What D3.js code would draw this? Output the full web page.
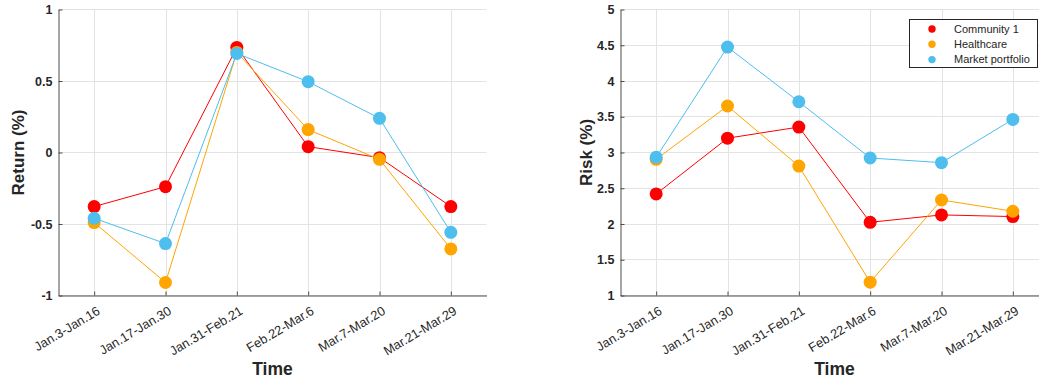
<!DOCTYPE html>
<html>
<head>
<meta charset="utf-8">
<script src="https://cdn.jsdelivr.net/npm/d3@7"></script>
<style>
	body { margin: 0; background: #fff; overflow: hidden; }
	svg { display: block; font-family: "Liberation Sans", Arial, sans-serif; }
</style>
</head>
<body>
<div id="graph-container"></div>
<script>
// data
const periods = ["Jan.3-Jan.16", "Jan.17-Jan.30", "Jan.31-Feb.21", "Feb.22-Mar.6", "Mar.7-Mar.20", "Mar.21-Mar.29"];
const seriesNames = ["Community 1", "Healthcare", "Market portfolio"];
const seriesColors = ["#ff0000", "#ffa500", "#4dbeee"];

const community1Return = [-0.378, -0.239, 0.735, 0.041, -0.036, -0.378];
const healthcareReturn = [-0.49, -0.909, 0.70, 0.16, -0.048, -0.674];
const marketReturn = [-0.46, -0.637, 0.693, 0.495, 0.239, -0.558];

const community1Risk = [2.42, 3.20, 3.356, 2.024, 2.127, 2.104];
const healthcareRisk = [2.905, 3.65, 2.81, 1.186, 2.336, 2.178];
const marketRisk = [2.932, 4.474, 3.71, 2.923, 2.858, 3.463];

const returnTicks = [-1, -0.5, 0, 0.5, 1];
const riskTicks = [1, 1.5, 2, 2.5, 3, 3.5, 4, 4.5, 5];

document.addEventListener("DOMContentLoaded", function () {
	builder();
});

function builder() {
	const w = 1039;
	const h = 383;
	const plotW = 428;
	const top = 9.5;
	const bottom = 295.5;

	const svg = d3
		.select("#graph-container")
		.append("svg")
		.attr("width", w)
		.attr("height", h);

	drawPanel(svg, {
		left: 58.5,
		width: plotW,
		top: top,
		bottom: bottom,
		domain: [-1, 1],
		ticks: returnTicks,
		series: [community1Return, healthcareReturn, marketReturn],
		yTitle: "Return (%)",
		yTitleX: 24,
		legend: false
	});

	drawPanel(svg, {
		left: 620.5,
		width: plotW,
		top: top,
		bottom: bottom,
		domain: [1, 5],
		ticks: riskTicks,
		series: [community1Risk, healthcareRisk, marketRisk],
		yTitle: "Risk (%)",
		yTitleX: 592,
		legend: true
	});
}

function drawPanel(svg, o) {
	const x = d3.scaleLinear().domain([0.5, periods.length + 0.5]).range([o.left, o.left + o.width]);
	const y = d3.scaleLinear().domain(o.domain).range([o.bottom, o.top]);
	const idx = d3.range(1, periods.length + 1);

	const g = svg.append("g");

	// grid
	g.append("g")
		.selectAll("line.vg")
		.data(idx)
		.enter()
		.append("line")
		.attr("x1", (d) => Math.round(x(d)) + 0.5)
		.attr("x2", (d) => Math.round(x(d)) + 0.5)
		.attr("y1", o.top)
		.attr("y2", o.bottom)
		.attr("stroke", "#e3e3e3");
	g.append("g")
		.selectAll("line.hg")
		.data(o.ticks)
		.enter()
		.append("line")
		.attr("x1", o.left)
		.attr("x2", o.left + o.width)
		.attr("y1", (d) => Math.round(y(d) - 0.5) + 0.5)
		.attr("y2", (d) => Math.round(y(d) - 0.5) + 0.5)
		.attr("stroke", "#e3e3e3");

	// axes
	const xAxis = d3
		.axisBottom(x)
		.tickValues(idx)
		.tickFormat((d) => periods[d - 1])
		.tickSizeInner(-4)
		.tickSizeOuter(0);
	const gx = g.append("g").attr("transform", `translate(0,${o.bottom})`).call(xAxis);
	gx.selectAll("text")
		.attr("x", 0)
		.attr("y", 0)
		.attr("dy", "0.35em")
		.attr("text-anchor", "end")
		.attr("transform", "translate(4,14) rotate(-31)")
		.attr("font-size", 12.8)
		.attr("fill", "#262626");

	const yAxis = d3
		.axisLeft(y)
		.tickValues(o.ticks)
		.tickFormat((d) => String(d))
		.tickSizeInner(-4)
		.tickSizeOuter(0)
		.tickPadding(6);
	const gy = g.append("g").attr("transform", `translate(${o.left},0)`).call(yAxis);
	gy.selectAll("text")
		.attr("font-size", 12.5)
		.attr("font-weight", "bold")
		.attr("fill", "#262626");

	g.selectAll(".domain, .tick line").attr("stroke", "#4d4d4d");
	g.selectAll(".tick text").attr("font-family", "'Liberation Sans', Arial, sans-serif");

	// titles
	g.append("text")
		.attr("x", o.left + o.width / 2)
		.attr("y", 375)
		.attr("text-anchor", "middle")
		.attr("font-size", 17.5)
		.attr("font-weight", "bold")
		.attr("fill", "#262626")
		.text("Time");
	g.append("text")
		.attr("transform", `translate(${o.yTitleX},${(o.top + o.bottom) / 2}) rotate(-90)`)
		.attr("text-anchor", "middle")
		.attr("font-size", 17)
		.attr("font-weight", "bold")
		.attr("fill", "#262626")
		.text(o.yTitle);

	// series
	const line = d3
		.line()
		.x((d, i) => x(i + 1))
		.y((d) => y(d));
	o.series.forEach((values, s) => {
		g.append("path")
			.datum(values)
			.attr("d", line)
			.attr("fill", "none")
			.attr("stroke", seriesColors[s])
			.attr("stroke-width", 1);
		g.append("g")
			.selectAll("circle")
			.data(values)
			.enter()
			.append("circle")
			.attr("cx", (d, i) => x(i + 1))
			.attr("cy", (d) => y(d))
			.attr("r", 6.5)
			.attr("fill", seriesColors[s]);
	});

	if (o.legend) {
		const lg = svg.append("g").attr("transform", "translate(909.5,19.5)");
		lg.append("rect")
			.attr("width", 128)
			.attr("height", 48)
			.attr("fill", "#fff")
			.attr("stroke", "#262626");
		const rows = lg
			.selectAll("g.row")
			.data(seriesNames)
			.enter()
			.append("g")
			.attr("transform", (d, i) => `translate(0,${9.5 + i * 15.3})`);
		rows.append("circle")
			.attr("cx", 22.5)
			.attr("cy", 0)
			.attr("r", 3.7)
			.attr("fill", (d, i) => seriesColors[i]);
		rows.append("text")
			.attr("x", 44.5)
			.attr("y", 0)
			.attr("dy", "0.35em")
			.attr("font-size", 11)
			.attr("fill", "#262626")
			.text((d) => d);
	}
}
</script>
</body>
</html>
